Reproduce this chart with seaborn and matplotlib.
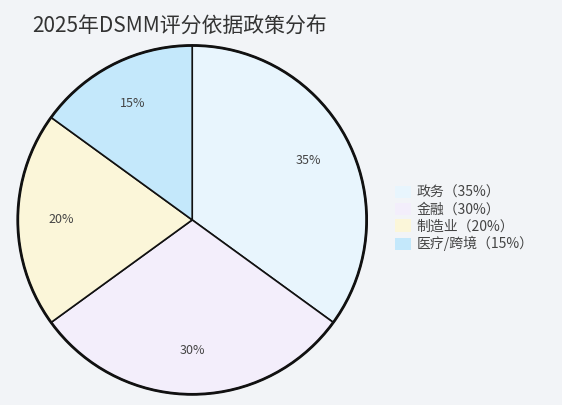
import matplotlib
matplotlib.use("Agg")
import matplotlib.pyplot as plt
import seaborn as sns
from matplotlib.patches import Patch, Circle

sns.set_theme(style="white")
plt.rcParams['font.family'] = ['Noto Sans CJK SC', 'DejaVu Sans']

categories = ["政务", "金融", "制造业", "医疗/跨境"]
values = [35, 30, 20, 15]
legend_labels = ["政务（35%）", "金融（30%）", "制造业（20%）", "医疗/跨境（15%）"]
colors = ["#e8f5fd", "#f3eefb", "#fbf6d9", "#c4e8fb"]
bg = "#f2f4f7"

fig = plt.figure(figsize=(5.62, 4.05), dpi=100, facecolor=bg)
ax = fig.add_axes([0.0285, 0.022, 0.627, 0.870])
ax.set_facecolor(bg)
wedges, texts, autotexts = ax.pie(values, colors=colors, startangle=90, counterclock=False,
                                  autopct="%d%%", pctdistance=0.75,
                                  wedgeprops=dict(edgecolor="#111111", linewidth=1.2),
                                  textprops=dict(fontsize=9, color="#444444"))
ax.add_patch(Circle((0, 0), 1.0, fill=False, edgecolor="#111111", linewidth=2))
ax.set_xlim(-1.01, 1.01); ax.set_ylim(-1.01, 1.01)
ax.set_aspect("equal")
ax.axis("off")

fig.text(0.057, 0.935, "2025年DSMM评分依据政策分布", fontsize=15, color="#333333", va="center")
handles = [Patch(facecolor=c, edgecolor="none") for c in colors]
fig.legend(handles, legend_labels, loc="center left", bbox_to_anchor=(0.68, 0.46),
           frameon=False, fontsize=10, handlelength=1.2, handleheight=1.0,
           handletextpad=0.4, labelspacing=0.2, labelcolor="#444444")
fig.savefig("out.png", dpi=100, facecolor=bg)
